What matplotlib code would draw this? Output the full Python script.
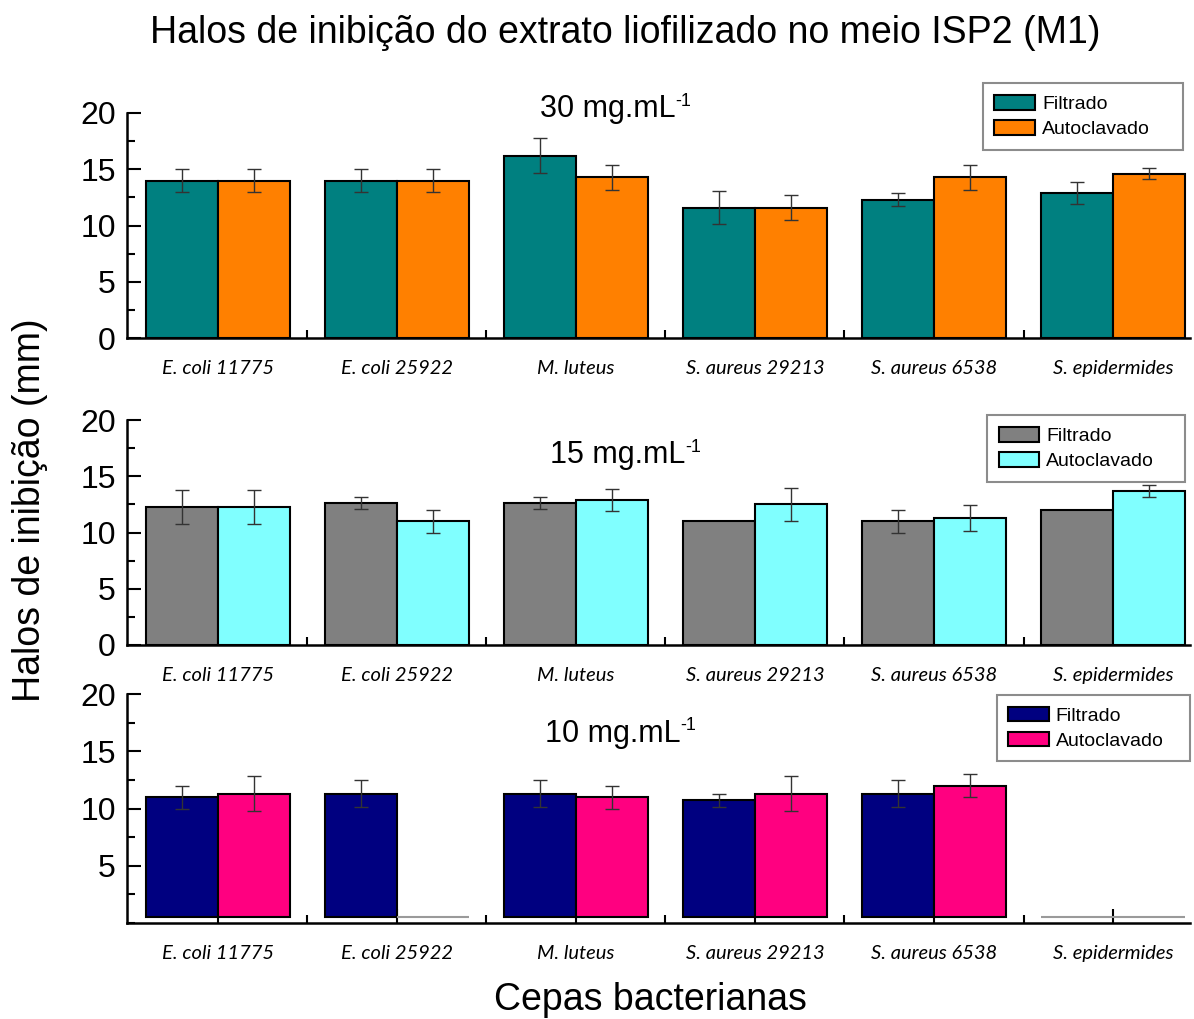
import matplotlib
matplotlib.use('Agg')
import matplotlib.pyplot as plt
from matplotlib.ticker import MultipleLocator
import numpy as np

plt.rcParams['font.family'] = ['Liberation Sans', 'DejaVu Sans']

cepas = ['E. coli 11775', 'E. coli 25922', 'M. luteus',
         'S. aureus 29213', 'S. aureus 6538', 'S. epidermides']

# 30 mg/mL
filt_30 = [14.0, 14.0, 16.2, 11.6, 12.3, 12.9]
filt_30_err = [1.0, 1.0, 1.55, 1.5, 0.55, 1.0]
auto_30 = [14.0, 14.0, 14.3, 11.6, 14.3, 14.6]
auto_30_err = [1.0, 1.0, 1.1, 1.15, 1.1, 0.5]

# 15 mg/mL
filt_15 = [12.3, 12.6, 12.6, 11.0, 11.0, 12.0]
filt_15_err = [1.5, 0.55, 0.55, 0.0, 1.0, 0.0]
auto_15 = [12.3, 11.0, 12.9, 12.5, 11.3, 13.7]
auto_15_err = [1.5, 1.0, 1.0, 1.5, 1.15, 0.5]

# 10 mg/mL
filt_10 = [11.0, 11.3, 11.3, 10.7, 11.3, 0.0]
filt_10_err = [1.0, 1.2, 1.2, 0.55, 1.2, 0.0]
auto_10 = [11.3, 0.0, 11.0, 11.3, 12.0, 0.0]
auto_10_err = [1.5, 0.0, 1.0, 1.5, 1.0, 0.0]

W, H = 1194, 1019
fig = plt.figure(figsize=(W / 100, H / 100), dpi=100)

x = np.arange(len(cepas))
larg = 0.4


def ax_px(left, top, right, bottom):
    return fig.add_axes([left / W, 1 - bottom / H, (right - left) / W, (bottom - top) / H])


def serie(ax, pos, vals, errs, cor, rotulo, base):
    vals = np.array(vals)
    errs = np.array(errs)
    ok = vals > 0
    ax.bar(pos[ok], vals[ok] - base, larg, bottom=base, color=cor,
           edgecolor='black', linewidth=1.5, label=rotulo, zorder=3)
    # amostras sem halo: so a linha de base
    if (~ok).any():
        ax.bar(pos[~ok], np.zeros((~ok).sum()), larg, bottom=base + 0.05,
               color='none', edgecolor='#9a9a9a', linewidth=1.5, zorder=3)
    e = ok & (errs > 0)
    ax.errorbar(pos[e], vals[e], yerr=errs[e], fmt='none', ecolor='#333333',
                elinewidth=1.0, capsize=5, capthick=1.0, zorder=4)


def painel(ax, filt, filt_err, auto, auto_err, cores, conc, txt_pos, leg_box,
           base=0.0, yticks=(0, 5, 10, 15, 20)):
    serie(ax, x - larg / 2, filt, filt_err, cores[0], 'Filtrado', base)
    serie(ax, x + larg / 2, auto, auto_err, cores[1], 'Autoclavado', base)

    ax.set_xlim(-0.508, 5.43)
    ax.set_ylim(0, 20)
    for s in ['top', 'right']:
        ax.spines[s].set_visible(False)
    for s in ['left', 'bottom']:
        ax.spines[s].set_linewidth(1.8)
        ax.spines[s].set_zorder(5)

    ax.set_yticks(yticks)
    ax.yaxis.set_minor_locator(MultipleLocator(2.5))
    ax.set_xticks(x)
    ax.set_xticks(x[:-1] + 0.5, minor=True)
    ax.set_xticklabels(cepas, family=['Lato', 'DejaVu Sans'], style='italic', fontsize=14.5)
    ax.tick_params(axis='both', which='major', direction='in', length=10, width=1.5)
    ax.tick_params(axis='both', which='minor', direction='in', length=6, width=1.5)
    ax.tick_params(axis='y', labelsize=23, pad=8)
    ax.tick_params(axis='x', pad=16)

    t = ax.text(txt_pos[0], txt_pos[1], conc + ' mg.mL',
                transform=ax.transAxes, fontsize=22, ha='left', va='baseline')
    ax.annotate('-1', xy=(1.0, 1.0), xycoords=t, xytext=(0, 1),
                textcoords='offset points', fontsize=13, ha='left', va='top')

    leg = ax.legend(loc='upper left', bbox_to_anchor=leg_box, mode='expand',
                    borderaxespad=0, fancybox=False, framealpha=1, edgecolor='#8c8c8c',
                    prop={'family': ['Liberation Sans Narrow', 'Liberation Sans'], 'size': 14},
                    handlelength=2.1, handleheight=0.8, labelspacing=0.35,
                    handletextpad=0.35, borderpad=0.6)
    leg.get_frame().set_linewidth(1.5)


ax1 = ax_px(127, 113, 1190, 338)
painel(ax1, filt_30, filt_30_err, auto_30, auto_30_err, ['#008080', '#ff8000'],
       '30', (0.3885, 0.982), (0.805, 1.133, 0.188, 0))

ax2 = ax_px(127, 420, 1190, 645)
painel(ax2, filt_15, filt_15_err, auto_15, auto_15_err, ['#808080', '#80ffff'],
       '15', (0.398, 0.809), (0.809, 1.022, 0.186, 0))

ax3 = ax_px(127, 694, 1190, 923)
painel(ax3, filt_10, filt_10_err, auto_10, auto_10_err, ['#000080', '#ff0080'],
       '10', (0.393, 0.792), (0.818, 0.996, 0.1816, 0), base=0.5, yticks=(5, 10, 15, 20))

fig.text(625 / W, 1 - 33 / H, 'Halos de inibição do extrato liofilizado no meio ISP2 (M1)',
         fontsize=27, ha='center', va='center')
fig.text(30 / W, 1 - 510 / H, 'Halos de inibição (mm)', fontsize=27,
         rotation=90, ha='center', va='center')
fig.text(650 / W, 1 - 1000 / H, 'Cepas bacterianas', fontsize=27,
         ha='center', va='center')

fig.savefig('out.png', dpi=100)
